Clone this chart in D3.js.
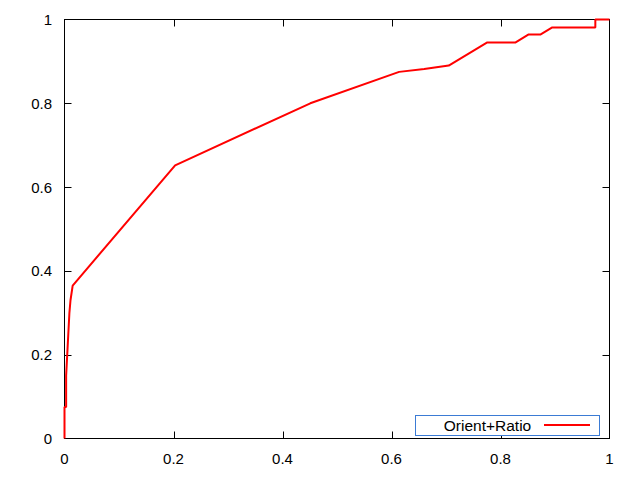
<!DOCTYPE html>
<html><head><meta charset="utf-8">
<script src="https://cdn.jsdelivr.net/npm/d3@7"></script>
<style>body{margin:0;background:#fff}svg{display:block}</style>
</head><body>
<script>
const seriesName = "Orient+Ratio";
const fpr = [0,0,0.003,0.003,0.005,0.007,0.009,0.011,0.015,0.203,0.451,0.614,0.66,0.705,0.775,0.827,0.851,0.873,0.895,0.974,0.974,1];
const tpr = [0,0.075,0.075,0.15,0.2,0.25,0.3,0.33,0.365,0.652,0.8,0.875,0.882,0.89,0.945,0.945,0.964,0.964,0.981,0.981,1,1];
const xTicks = [0,0.2,0.4,0.6,0.8,1];
const yTicks = [0,0.2,0.4,0.6,0.8,1];

const W=640,H=480;
const L=64.5,R=609.5,T=19.5,B=438.5;
const svg=d3.select("body").append("svg").attr("width",W).attr("height",H);
const x=d3.scaleLinear().domain([0,1]).range([L,R]);
const y=d3.scaleLinear().domain([0,1]).range([B,T]);
const font="'Liberation Sans', Arial, sans-serif";
const fmt=d=>String(d);

const g=svg.append("g").attr("stroke","#000").attr("stroke-width",1);
xTicks.forEach(t=>{
  if(t===0||t===1) return;
  const px=Math.round(x(t))+0.5;
  g.append("line").attr("x1",px).attr("x2",px).attr("y1",B).attr("y2",B-7);
  g.append("line").attr("x1",px).attr("x2",px).attr("y1",T).attr("y2",T+7);
});
yTicks.forEach(t=>{
  if(t===0||t===1) return;
  const py=Math.round(y(t))+0.5;
  g.append("line").attr("y1",py).attr("y2",py).attr("x1",L).attr("x2",L+7);
  g.append("line").attr("y1",py).attr("y2",py).attr("x1",R).attr("x2",R-7);
});
svg.append("rect").attr("x",L).attr("y",T).attr("width",R-L).attr("height",B-T)
  .attr("fill","none").attr("stroke","#000").attr("stroke-width",1);

svg.append("g").selectAll("text").data(xTicks).join("text")
  .attr("x",d=>x(d)).attr("y",463.5).attr("text-anchor","middle")
  .attr("font-family",font).attr("font-size",15).text(fmt);
svg.append("g").selectAll("text").data(yTicks).join("text")
  .attr("x",52).attr("y",d=>y(d)+5.5).attr("text-anchor","end")
  .attr("font-family",font).attr("font-size",15).text(fmt);

const pts=fpr.map((v,i)=>[v,tpr[i]]);
svg.append("path").datum(pts)
  .attr("d",d3.line().x(d=>x(d[0])).y(d=>y(d[1])))
  .attr("fill","none").attr("stroke","#ff0000").attr("stroke-width",2).attr("stroke-linejoin","bevel");

svg.append("rect").attr("x",415.5).attr("y",415.5).attr("width",184).attr("height",20)
  .attr("fill","#fff").attr("stroke","#3b7bd4").attr("stroke-width",1);
svg.append("text").attr("x",487.5).attr("y",431).attr("text-anchor","middle")
  .attr("font-family",font).attr("font-size",15.5).text(seriesName);
svg.append("line").attr("x1",544).attr("x2",590).attr("y1",425).attr("y2",425)
  .attr("stroke","#ff0000").attr("stroke-width",2);
</script>
</body></html>
